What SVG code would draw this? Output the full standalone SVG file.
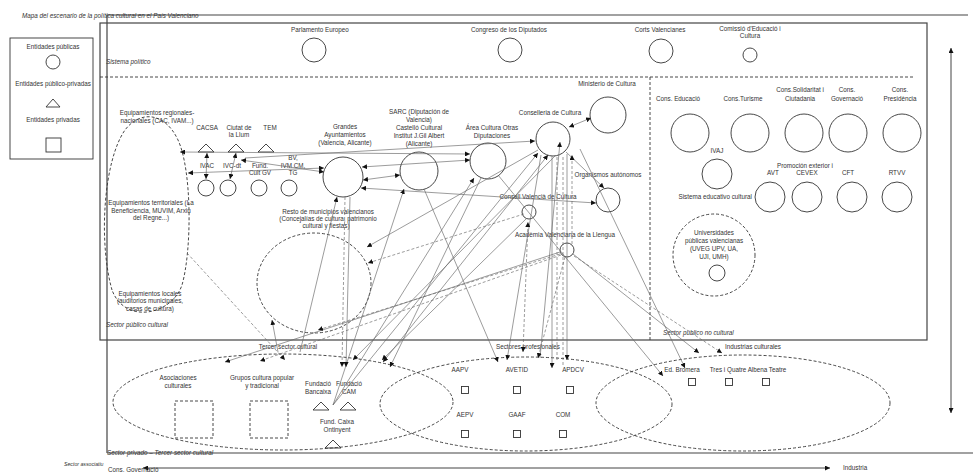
<svg xmlns="http://www.w3.org/2000/svg" width="973" height="473" viewBox="0 0 973 473">
<defs>
<marker id="ah" viewBox="0 0 10 10" refX="10" refY="5" markerWidth="5" markerHeight="5" markerUnits="userSpaceOnUse" orient="auto-start-reverse"><path d="M0,0 L10,5 L0,10 z" fill="#111"/></marker>
<style>
.t{font-family:"Liberation Sans",Arial,sans-serif;font-size:6.3px;fill:#333;text-anchor:middle}
.l{font-family:"Liberation Sans",Arial,sans-serif;font-size:6.3px;fill:#333;font-style:italic}
.s{fill:none;stroke:#333;stroke-width:0.9}
.sd{fill:none;stroke:#333;stroke-width:0.9;stroke-dasharray:3,2}
.fr{fill:none;stroke:#444;stroke-width:1.2}
.c line{stroke:#666;stroke-width:0.65;fill:none}
.c .d{stroke-dasharray:3,2}
.a{marker-end:url(#ah)}
.b{marker-end:url(#ah);marker-start:url(#ah)}
</style>
</defs>
<rect width="973" height="473" fill="#fff"/>

<!-- frames -->
<g id="frames">
<line x1="107" y1="15" x2="968" y2="15" class="fr"/>
<line x1="107" y1="15" x2="107" y2="453" class="fr"/>
<line x1="107" y1="453" x2="973" y2="453" class="fr"/>
<rect x="100" y="23" width="827" height="317" class="fr"/>
<line x1="100" y1="77" x2="915" y2="77" class="sd"/>
<line x1="650" y1="77" x2="650" y2="340" class="sd"/>
<line x1="951" y1="48" x2="951" y2="413" stroke="#444" stroke-width="1" class="b"/>
<line x1="143" y1="468" x2="830" y2="468" stroke="#444" stroke-width="1" class="b"/>
</g>

<g id="labels">
<text class="l" x="22" y="18" font-size="5.8">Mapa del escenario de la política cultural en el País Valenciano</text>
<text class="l" x="106" y="64">Sistema político</text>
<text class="l" x="106" y="327">Sector público cultural</text>
<text class="l" x="663" y="335">Sector público no cultural</text>
<text class="l" x="107" y="455">Sector privado – Tercer sector cultural</text>
<text class="l" x="64" y="466" style="font-size:5.2px">Sector associatiu</text>
<text class="t" x="108" y="472" style="text-anchor:start">Cons. Governació</text>
<text class="t" x="843" y="470" style="text-anchor:start">Industria</text>
</g>

<g id="legend">
<rect x="10" y="38" width="83" height="121" class="s"/>
<text class="t" x="53" y="49">Entidades públicas</text>
<circle cx="53" cy="62" r="7" class="s"/>
<text class="t" x="53" y="86">Entidades público-privadas</text>
<polygon points="46,107 53,99 60,107" class="s"/>
<text class="t" x="53" y="122">Entidades privadas</text>
<rect x="46" y="138" width="15" height="14" class="s"/>
</g>

<!-- Sistema politico -->
<g id="parlamento"><text class="t" x="320" y="32">Parlamento Europeo</text><circle cx="314" cy="50" r="12" class="s"/></g>
<g id="congreso"><text class="t" x="509" y="32">Congreso de los Diputados</text><circle cx="510" cy="50" r="12" class="s"/></g>
<g id="corts"><text class="t" x="660" y="32">Corts Valencianes</text><circle cx="661" cy="51" r="12" class="s"/></g>
<g id="comissio"><text class="t" x="750" y="31">Comissió d'Educació i</text><text class="t" x="750" y="38">Cultura</text><circle cx="750" cy="55" r="7" class="s"/></g>

<!-- Sector publico cultural -->
<g id="equip-terr">
<path d="M112,290 C98,240 104,160 125,130 C140,110 165,112 178,140 C192,170 192,250 182,285 C172,315 125,325 112,290 Z" class="sd"/>
<text class="t" x="157" y="115">Equipamientos regionales-</text>
<text class="t" x="157" y="123">nacionales (CAC, IVAM...)</text>
<text class="t" x="151" y="205">Equipamientos territoriales  (La</text>
<text class="t" x="151" y="213">Beneficiencia, MUVIM, Arxiu</text>
<text class="t" x="151" y="220">del Regne...)</text>
<text class="t" x="150" y="296">Equipamientos locales</text>
<text class="t" x="150" y="303">(auditorios municipales,</text>
<text class="t" x="150" y="311">casas de cultura)</text>
</g>
<g id="cacsa"><text class="t" x="207" y="130">CACSA</text><polygon points="198,152 206,144 214,152" class="s"/></g>
<g id="ciutat"><text class="t" x="239" y="130">Ciutat de</text><text class="t" x="239" y="137">la Llum</text><polygon points="228,152 236,144 244,152" class="s"/></g>
<g id="tem"><text class="t" x="270" y="130">TEM</text><polygon points="258,152 266,144 274,152" class="s"/></g>
<g id="ivac"><text class="t" x="207" y="168">IVAC</text><circle cx="206" cy="188" r="8" class="s"/></g>
<g id="ivcdt"><text class="t" x="232" y="168">IVC-dt</text><circle cx="228" cy="188" r="8" class="s"/></g>
<g id="fundcult"><text class="t" x="260" y="168">Fund.</text><text class="t" x="260" y="175">Cult GV</text><circle cx="259" cy="188" r="8" class="s"/></g>
<g id="bv"><text class="t" x="293" y="160">BV,</text><text class="t" x="293" y="168">IVM CM,</text><text class="t" x="293" y="175">TG</text><circle cx="289" cy="188" r="8" class="s"/></g>
<g id="grandes"><text class="t" x="345" y="129">Grandes</text><text class="t" x="345" y="137">Ayuntamientos</text><text class="t" x="345" y="145">(Valencia, Alicante)</text><circle cx="343" cy="177" r="20" class="s"/></g>
<g id="resto"><text class="t" x="328" y="214">Resto de municipios valencianos</text><text class="t" x="328" y="221">(Concejalías de cultura, patrimonio</text><text class="t" x="326" y="228">cultural y fiestas)</text><ellipse cx="314" cy="283" rx="57" ry="50" class="sd"/></g>
<g id="sarc"><text class="t" x="419" y="114">SARC (Diputación de</text><text class="t" x="419" y="122">Valencia)</text><text class="t" x="419" y="130">Castelló Cultural</text><text class="t" x="419" y="138">Institut J.Gil Albert</text><text class="t" x="419" y="146">(Alicante)</text><circle cx="419" cy="171" r="19" class="s"/></g>
<g id="area"><text class="t" x="492" y="130">Área Cultura Otras</text><text class="t" x="492" y="138">Diputaciones</text><circle cx="488" cy="161" r="18" class="s"/></g>
<g id="conselleria"><text class="t" x="550" y="115">Conselleria de Cultura</text><circle cx="553" cy="139" r="17" class="s"/></g>
<g id="ministerio"><text class="t" x="607" y="86">Ministerio de Cultura</text><circle cx="608" cy="115" r="18" class="s"/></g>
<g id="organismos"><text class="t" x="608" y="177">Organismos autónomos</text><circle cx="608" cy="200" r="12" class="s"/></g>
<g id="consell"><text class="t" x="538" y="199">Consell Valencià de Cultura</text><circle cx="529" cy="212" r="7" class="s"/></g>
<g id="academia"><text class="t" x="565" y="237">Acadèmia Valenciana de la Llengua</text><circle cx="567" cy="250" r="7" class="s"/></g>

<!-- Sector publico no cultural -->
<g id="educacio"><text class="t" x="678" y="101">Cons. Educació</text><circle cx="690" cy="133" r="19" class="s"/></g>
<g id="turisme"><text class="t" x="743" y="101">Cons.Turisme</text><circle cx="750" cy="133" r="19" class="s"/></g>
<g id="solidaritat"><text class="t" x="800" y="92">Cons.Solidaritat i</text><text class="t" x="800" y="101">Ciutadania</text><circle cx="804" cy="133" r="19" class="s"/></g>
<g id="governacio"><text class="t" x="847" y="92">Cons.</text><text class="t" x="847" y="101">Governació</text><circle cx="848" cy="133" r="19" class="s"/></g>
<g id="presidencia"><text class="t" x="900" y="92">Cons.</text><text class="t" x="900" y="101">Presidència</text><circle cx="902" cy="133" r="19" class="s"/></g>
<g id="ivaj"><text class="t" x="717" y="153">IVAJ</text><circle cx="717" cy="174" r="15" class="s"/></g>
<g id="promocion"><text class="t" x="805" y="168">Promoción exterior i</text></g>
<g id="avt"><text class="t" x="773" y="175">AVT</text><circle cx="770" cy="197" r="15" class="s"/></g>
<g id="cevex"><text class="t" x="807" y="175">CEVEX</text><circle cx="807" cy="197" r="15" class="s"/></g>
<g id="cft"><text class="t" x="848" y="175">CFT</text><circle cx="852" cy="197" r="15" class="s"/></g>
<g id="rtvv"><text class="t" x="897" y="175">RTVV</text><circle cx="897" cy="197" r="15" class="s"/></g>
<g id="sistema-edu"><text class="t" x="752" y="199" style="text-anchor:end">Sistema educativo cultural</text></g>
<g id="universidades"><circle cx="714" cy="255" r="41" class="sd"/><text class="t" x="714" y="235">Universidades</text><text class="t" x="714" y="243">públicas valencianas</text><text class="t" x="714" y="251">(UVEG UPV, UA,</text><text class="t" x="714" y="259">UJI, UMH)</text><circle cx="717" cy="273" r="8" class="s"/></g>

<!-- Sector privado -->
<g id="tercer"><ellipse cx="283" cy="402" rx="170" ry="48" class="sd"/><text class="t" x="288" y="349">Tercer sector cultural</text></g>
<g id="profesionales"><ellipse cx="526" cy="404" rx="146" ry="47" class="sd"/><text class="t" x="528" y="349">Sectores profesionales</text></g>
<g id="industrias"><ellipse cx="743" cy="403" rx="147" ry="48" class="sd"/><text class="t" x="753" y="349">Industrias culturales</text></g>
<g id="asociaciones"><text class="t" x="178" y="380">Asociaciones</text><text class="t" x="178" y="388">culturales</text><rect x="175" y="401" width="38" height="37" class="sd"/></g>
<g id="grupos"><text class="t" x="262" y="380">Grupos cultura popular</text><text class="t" x="262" y="388">y tradicional</text><rect x="250" y="401" width="38" height="37" class="sd"/></g>
<g id="bancaixa"><text class="t" x="318" y="386">Fundació</text><text class="t" x="318" y="394">Bancaixa</text><polygon points="313,410 321,402 329,410" class="s"/></g>
<g id="cam"><text class="t" x="349" y="386">Fundació</text><text class="t" x="349" y="394">CAM</text><polygon points="340,410 348,402 356,410" class="s"/></g>
<g id="ontinyent"><text class="t" x="337" y="424">Fund. Caixa</text><text class="t" x="337" y="432">Ontinyent</text><polygon points="325,448 333,440 341,448" class="s"/></g>
<g id="aapv"><text class="t" x="460" y="372">AAPV</text><rect x="461.5" y="386.5" width="7" height="7" class="s"/></g>
<g id="avetid"><text class="t" x="517" y="372">AVETID</text><rect x="513.5" y="386.5" width="7" height="7" class="s"/></g>
<g id="apdcv"><text class="t" x="573" y="372">APDCV</text><rect x="566.5" y="386.5" width="7" height="7" class="s"/></g>
<g id="aepv"><text class="t" x="465" y="417">AEPV</text><rect x="461.5" y="430.5" width="7" height="7" class="s"/></g>
<g id="gaaf"><text class="t" x="517" y="417">GAAF</text><rect x="513.5" y="430.5" width="7" height="7" class="s"/></g>
<g id="com"><text class="t" x="563" y="417">COM</text><rect x="559.5" y="430.5" width="7" height="7" class="s"/></g>
<g id="bromera"><text class="t" x="682" y="372">Ed. Bromera</text><rect x="688.5" y="378.5" width="7" height="7" class="s"/></g>
<g id="tresiquatre"><text class="t" x="728" y="372">Tres i Quatre</text><rect x="725.5" y="378.5" width="7" height="7" class="s"/></g>
<g id="albena"><text class="t" x="767" y="372">Albena Teatre</text><rect x="762.5" y="378.5" width="7" height="7" class="s"/></g>

<!-- connectors -->
<g id="connectors" class="c">
<line x1="180" y1="152" x2="470" y2="154" class="b"/>
<line x1="245" y1="158" x2="535" y2="141" class="a"/>
<line x1="188" y1="173" x2="324" y2="168" class="b"/>
<line x1="241" y1="160" x2="324" y2="172" class="b"/>
<line x1="207" y1="153" x2="206" y2="179" class="b"/>
<line x1="236" y1="153" x2="230" y2="179" class="b"/>
<line x1="363" y1="180" x2="400" y2="175" class="b"/>
<line x1="362" y1="167" x2="470" y2="160" class="b"/>
<line x1="361" y1="188" x2="596" y2="203" class="b"/>
<line x1="569" y1="127" x2="591" y2="118" class="b"/>
<line x1="566" y1="152" x2="604" y2="188" class="a"/>
<line x1="580" y1="149" x2="685" y2="368" class="a"/>
<line x1="333" y1="405" x2="404" y2="189" class="a"/>
<line x1="333" y1="405" x2="474" y2="178" class="a"/>
<line x1="333" y1="405" x2="538" y2="153" class="a"/>
<line x1="300" y1="352" x2="337" y2="197" class="a"/>
<line x1="350" y1="197" x2="346" y2="367" class="a"/>
<line x1="424" y1="189" x2="498" y2="362" class="a"/>
<line x1="541" y1="155" x2="507" y2="360" class="a"/>
<line x1="552" y1="156" x2="552" y2="368" class="a"/>
<line x1="567" y1="154" x2="567" y2="360" class="a"/>
<line x1="498" y1="175" x2="663" y2="376" class="a"/>
<line x1="527" y1="218" x2="382" y2="360" class="a"/>
<line x1="560" y1="252" x2="225" y2="362" class="a"/>
<line x1="573" y1="254" x2="699" y2="353" class="a"/>
<line x1="538" y1="150" x2="367" y2="247" class="a"/>
<line x1="481" y1="178" x2="390" y2="367" class="a"/>
<line x1="555" y1="156" x2="353" y2="360" class="a"/>
<line x1="278" y1="352" x2="272" y2="320" class="a"/>
<line x1="383" y1="362" x2="548" y2="155" class="b"/>
<line x1="540" y1="358" x2="560" y2="142" class="a"/>
<line x1="187" y1="253" x2="285" y2="360" class="d a"/>
<line x1="560" y1="254" x2="318" y2="330" class="d a"/>
<line x1="523" y1="352" x2="528" y2="222" class="d b"/>
<line x1="574" y1="256" x2="722" y2="353" class="d a"/>
<line x1="561" y1="255" x2="260" y2="361" class="d a"/>
<line x1="557" y1="157" x2="557" y2="362" class="d"/>
<line x1="563" y1="157" x2="563" y2="365" class="d"/>
<line x1="524" y1="214" x2="368" y2="263" class="d a"/>
<line x1="345" y1="197" x2="342" y2="367" class="d a"/>
<line x1="565" y1="257" x2="538" y2="358" class="d a"/>
<line x1="572" y1="244" x2="572" y2="155" class="d a"/>
</g>
</svg>
